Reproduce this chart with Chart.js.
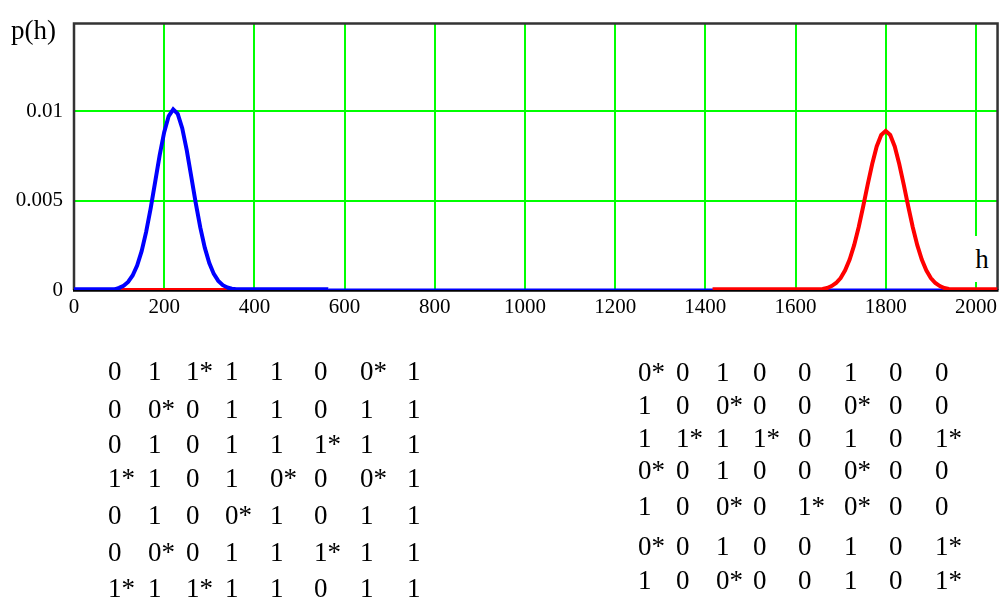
<!DOCTYPE html>
<html>
<head>
<meta charset="utf-8">
<title>p(h)</title>
<script src="https://cdn.jsdelivr.net/npm/chart.js@4.4.1/dist/chart.umd.min.js"></script>
<style>
  html, body { margin: 0; padding: 0; background: #fff; }
  #wrap { position: relative; width: 1002px; height: 601px; overflow: hidden; background: #fff; }
  #chart { position: absolute; left: 0; top: 0; }
  .lbl { position: absolute; font-family: "Liberation Serif", "Times New Roman", serif; color: #000; line-height: 1; }
  .cell { position: absolute; font-family: "Liberation Serif", "Times New Roman", serif; font-size: 27px; line-height: 27px; color: #000; white-space: pre; }
</style>
</head>
<body>
<div id="wrap">
  <canvas id="chart" width="1002" height="601"></canvas>
  <div class="lbl" style="left:11px; top:17px; font-size:27px;">p(h)</div>
  <div class="lbl" style="left:969px; top:236px; width:26px; height:46px; background:#fff; font-size:27px; text-align:center; padding-top:10px; box-sizing:border-box;">h</div>
  <div id="matrices"></div>
</div>
<script>
// Axis ticks
const hTickValues = [0, 200, 400, 600, 800, 1000, 1200, 1400, 1600, 1800, 2000];
const hTickLabels = ['0', '200', '400', '600', '800', '1000', '1200', '1400', '1600', '1800', '2000'];
const pTickValues = [0, 0.005, 0.01];
const pTickLabels = ['0', '0.005', '0.01'];

// Blue distribution p(h) near h ≈ 220
const blueH = [0, 90, 100, 110, 120, 130, 140, 150, 160, 170, 180, 190, 200, 210, 220, 230,
               240, 250, 260, 270, 280, 290, 300, 310, 320, 330, 340, 350, 360, 564];
const blueP = [0.00004, 0.00004, 0.00012, 0.00024, 0.00045, 0.00081, 0.00137, 0.00217, 0.00325,
               0.00457, 0.00605, 0.00754, 0.00883, 0.00973, 0.0101, 0.00985, 0.00905, 0.00782,
               0.00635, 0.00486, 0.0035, 0.00237, 0.00151, 0.0009, 0.00051, 0.00027, 0.00014,
               0.00007, 0.00004, 0.00004];
// Blue continues along the axis to the right edge
const blueTailH = [564, 2048];
const blueTailP = [0, 0];

// Red distribution p(h) near h ≈ 1800 (plus its flat stretch under the blue peak)
const redH = [104, 339, 800, 1416, 1650, 1660, 1670, 1680, 1690, 1700, 1710, 1720, 1730, 1740,
              1750, 1760, 1770, 1780, 1790, 1800, 1810, 1820, 1830, 1840, 1850, 1860, 1870,
              1880, 1890, 1900, 1910, 1920, 1930, 1940, 1950, 2048];
const redP = [0, 0, null, 0.00004, 0.00004, 0.00006, 0.00011, 0.00022, 0.00039, 0.00067, 0.0011,
              0.0017, 0.00251, 0.00351, 0.00467, 0.00589, 0.00705, 0.00803, 0.00867, 0.0089,
              0.00867, 0.00803, 0.00705, 0.00589, 0.00467, 0.00351, 0.00251, 0.0017, 0.0011,
              0.00067, 0.00039, 0.00022, 0.00011, 0.00006, 0.00004, 0.00004];

// Two 7×8 matrices printed under the plot
const leftMatrix = [
  '0 1 1* 1 1 0 0* 1',
  '0 0* 0 1 1 0 1 1',
  '0 1 0 1 1 1* 1 1',
  '1* 1 0 1 0* 0 0* 1',
  '0 1 0 0* 1 0 1 1',
  '0 0* 0 1 1 1* 1 1',
  '1* 1 1* 1 1 0 1 1'
];
const rightMatrix = [
  '0* 0 1 0 0 1 0 0',
  '1 0 0* 0 0 0* 0 0',
  '1 1* 1 1* 0 1 0 1*',
  '0* 0 1 0 0 0* 0 0',
  '1 0 0* 0 1* 0* 0 0',
  '0* 0 1 0 0 1 0 1*',
  '1 0 0* 0 0 1 0 1*'
];
const leftCols = [108, 148, 186, 225, 270, 314, 360, 407];
const leftRows = [371, 409, 444, 478, 515, 552, 588];
const rightCols = [638, 676, 716, 753, 798, 844, 889, 935];
const rightRows = [372, 405, 438, 470, 506, 546, 580];

function placeMatrix(rows, cols, rowCenters, host) {
  rows.forEach((line, r) => {
    line.split(' ').forEach((cell, c) => {
      const el = document.createElement('div');
      el.className = 'cell';
      el.textContent = cell;
      el.style.left = cols[c] + 'px';
      el.style.top = (rowCenters[r] - 13.5) + 'px';
      host.appendChild(el);
    });
  });
}
const host = document.getElementById('matrices');
placeMatrix(leftMatrix, leftCols, leftRows, host);
placeMatrix(rightMatrix, rightCols, rightRows, host);

const toPoints = (xs, ys) => xs.map((x, i) => ({ x: x, y: ys[i] }));

// Frame around the plotting area, drawn beneath the curves
const framePlugin = {
  id: 'frame',
  beforeDatasetsDraw(chart) {
    const a = chart.chartArea;
    const ctx = chart.ctx;
    ctx.save();
    ctx.lineWidth = 2.5;
    ctx.strokeStyle = '#333';
    ctx.beginPath();
    ctx.moveTo(a.left, a.bottom);
    ctx.lineTo(a.left, a.top);
    ctx.lineTo(a.right, a.top);
    ctx.lineTo(a.right, a.bottom);
    ctx.stroke();
    ctx.strokeStyle = '#000';
    ctx.beginPath();
    ctx.moveTo(a.left - 1, a.bottom + 0.5);
    ctx.lineTo(a.right + 1, a.bottom + 0.5);
    ctx.stroke();
    ctx.restore();
  }
};

const tickFont = { family: '"Liberation Serif", "Times New Roman", serif', size: 21 };
const green = '#00ff00';

new Chart(document.getElementById('chart'), {
  type: 'line',
  data: {
    datasets: [
      { data: toPoints(blueH, blueP), borderColor: '#0000ff', borderWidth: 4, pointRadius: 0, fill: false, tension: 0, order: 0 },
      { data: toPoints(redH, redP), borderColor: '#ff0000', borderWidth: 4, pointRadius: 0, fill: false, tension: 0, spanGaps: false, order: 1 },
      { data: toPoints(blueTailH, blueTailP), borderColor: '#0000ff', borderWidth: 3, pointRadius: 0, fill: false, tension: 0, order: 2 }
    ]
  },
  options: {
    responsive: false,
    animation: false,
    events: [],
    layout: { padding: { top: 14, right: 4, bottom: 0, left: 0 } },
    plugins: { legend: { display: false }, tooltip: { enabled: false } },
    scales: {
      x: {
        type: 'linear',
        min: 0,
        max: 2048,
        border: { display: false },
        grid: {
          drawTicks: false,
          lineWidth: 2,
          color: (c) => (c.tick && c.tick.value === 0 ? 'rgba(0,0,0,0)' : green)
        },
        ticks: {
          stepSize: 200,
          includeBounds: false,
          autoSkip: false,
          maxRotation: 0,
          padding: 5,
          color: '#000',
          font: tickFont,
          callback: (v) => {
            const i = hTickValues.indexOf(v);
            return i >= 0 ? hTickLabels[i] : '';
          }
        },
        afterFit: (s) => { s.height = 311; }
      },
      y: {
        type: 'linear',
        min: 0,
        max: 0.0149,
        border: { display: false },
        grid: {
          drawTicks: false,
          lineWidth: 2,
          color: (c) => (c.tick && c.tick.value === 0 ? 'rgba(0,0,0,0)' : green)
        },
        ticks: {
          stepSize: 0.005,
          includeBounds: false,
          padding: 11,
          color: '#000',
          font: tickFont,
          callback: (v) => {
            const i = pTickValues.findIndex((t) => Math.abs(t - v) < 1e-9);
            return i >= 0 ? pTickLabels[i] : '';
          }
        },
        afterFit: (s) => { s.width = 74; }
      }
    }
  },
  plugins: [framePlugin]
});
</script>
</body>
</html>
